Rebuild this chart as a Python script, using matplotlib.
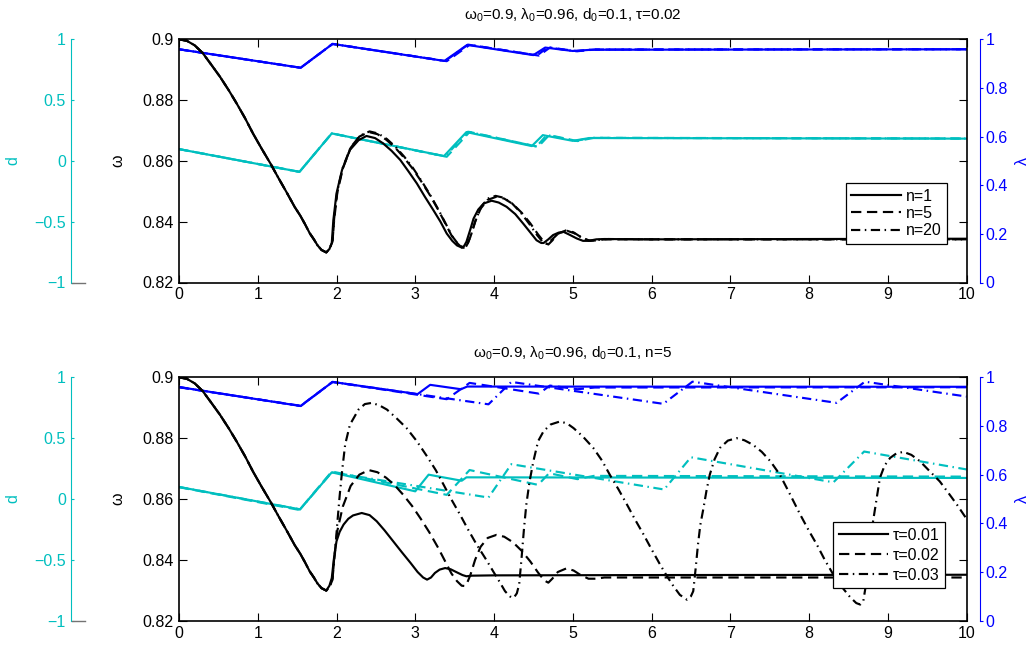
import matplotlib.pyplot as plt
import matplotlib.lines as mlines
from matplotlib.ticker import FuncFormatter

plt.rcParams['font.family'] = ['Liberation Sans', 'DejaVu Sans']
plt.rcParams['mathtext.fontset'] = 'custom'
plt.rcParams['mathtext.rm'] = 'Liberation Sans'
plt.rcParams['mathtext.it'] = 'Liberation Sans:italic'
plt.rcParams['font.size'] = 11.5

CYAN = '#00bfbf'
BLUE = '#0000ff'
FS = 11.5
LW = 1.55

# omega decay shared by all runs up to the first minimum
t_start = [0.00, 0.10, 0.20, 0.30, 0.40, 0.52, 0.63, 0.73, 0.84, 0.94, 1.05, 1.16,
           1.26, 1.37, 1.47, 1.54, 1.60, 1.66, 1.71, 1.76, 1.81, 1.87]
w_start = [0.9000, 0.8995, 0.8980, 0.8955, 0.8920, 0.8877, 0.8833, 0.8790, 0.8740,
           0.8690, 0.8640, 0.8592, 0.8545, 0.8495, 0.8448, 0.8420, 0.8392, 0.8362,
           0.8343, 0.8322, 0.8307, 0.8299]

# ---- top: tau = 0.02, n = 1 / 5 / 20 ----
t_n1 = t_start + [1.91, 1.94, 1.96, 2.00, 2.07, 2.17, 2.28, 2.38, 2.49, 2.59, 2.70, 2.81,
                  2.91, 3.02, 3.12, 3.23, 3.32, 3.40, 3.47, 3.53, 3.59, 3.62, 3.65, 3.70,
                  3.74, 3.80, 3.87, 3.97, 4.06, 4.16, 4.27, 4.37, 4.46, 4.54, 4.60, 4.63,
                  4.69, 4.75, 4.82, 4.88, 4.96, 5.05, 5.13, 5.20, 5.30, 5.40, 6.00, 8.00, 10.00]
w_n1 = w_start + [0.8310, 0.8330, 0.8405, 0.8493, 0.8570, 0.8636, 0.8668, 0.8682, 0.8675,
                  0.8658, 0.8633, 0.8603, 0.8567, 0.8526, 0.8483, 0.8438, 0.8400, 0.8361,
                  0.8337, 0.8322, 0.8315, 0.8320, 0.8334, 0.8375, 0.8410, 0.8440, 0.8460,
                  0.8469, 0.8463, 0.8449, 0.8425, 0.8394, 0.8365, 0.8339, 0.8330, 0.8330,
                  0.8342, 0.8356, 0.8364, 0.8367, 0.8357, 0.8345, 0.8337, 0.8337, 0.8342,
                  0.8343, 0.8342, 0.8343, 0.8344]

t_n5 = t_start + [1.91, 1.95, 1.97, 2.01, 2.08, 2.18, 2.29, 2.41, 2.52, 2.63, 2.74, 2.85,
                  2.96, 3.07, 3.18, 3.29, 3.38, 3.46, 3.53, 3.59, 3.63, 3.66, 3.70, 3.76,
                  3.83, 3.92, 4.03, 4.13, 4.24, 4.35, 4.46, 4.56, 4.64, 4.69, 4.74, 4.81,
                  4.92, 5.01, 5.10, 5.20, 5.30, 5.40, 6.00, 8.00, 10.00]
w_n5 = w_start + [0.8310, 0.8335, 0.8405, 0.8495, 0.8575, 0.8643, 0.8680, 0.8695, 0.8688,
                  0.8670, 0.8645, 0.8613, 0.8577, 0.8535, 0.8490, 0.8440, 0.8395, 0.8355,
                  0.8330, 0.8315, 0.8314, 0.8325, 0.8350, 0.8400, 0.8443, 0.8472, 0.8482,
                  0.8476, 0.8458, 0.8430, 0.8395, 0.8358, 0.8332, 0.8325, 0.8338, 0.8360,
                  0.8372, 0.8365, 0.8350, 0.8338, 0.8338, 0.8342, 0.8342, 0.8342, 0.8342]

t_n20 = t_start + [1.91, 1.95, 1.97, 2.01, 2.08, 2.18, 2.30, 2.42, 2.53, 2.64, 2.75, 2.86,
                   2.97, 3.08, 3.19, 3.30, 3.39, 3.47, 3.54, 3.60, 3.64, 3.67, 3.71, 3.77,
                   3.84, 3.92, 4.02, 4.12, 4.23, 4.34, 4.45, 4.55, 4.62, 4.67, 4.73, 4.82,
                   4.93, 5.02, 5.12, 5.22, 5.32, 5.45, 6.00, 8.00, 10.00]
w_n20 = w_start + [0.8310, 0.8335, 0.8410, 0.8500, 0.8578, 0.8645, 0.8683, 0.8697, 0.8690,
                   0.8672, 0.8646, 0.8614, 0.8577, 0.8534, 0.8488, 0.8437, 0.8392, 0.8352,
                   0.8328, 0.8316, 0.8316, 0.8330, 0.8358, 0.8407, 0.8450, 0.8476, 0.8485,
                   0.8479, 0.8460, 0.8430, 0.8392, 0.8355, 0.8333, 0.8327, 0.8340, 0.8362,
                   0.8370, 0.8362, 0.8347, 0.8337, 0.8340, 0.8343, 0.8342, 0.8342, 0.8342]

lt_n1 = [0.00, 1.545, 1.95, 3.37, 3.66, 4.50, 4.65, 5.00, 5.24, 10.00]
lam_n1 = [0.959, 0.883, 0.981, 0.911, 0.977, 0.935, 0.966, 0.952, 0.957, 0.959]
lt_n5 = [0.00, 1.545, 1.95, 3.40, 3.69, 4.57, 4.71, 5.06, 5.28, 10.00]
lam_n5 = [0.959, 0.883, 0.981, 0.910, 0.977, 0.933, 0.966, 0.951, 0.958, 0.959]
lt_n20 = [0.00, 1.545, 1.95, 3.38, 3.67, 4.55, 4.68, 5.03, 5.25, 10.00]
lam_n20 = [0.959, 0.883, 0.981, 0.911, 0.978, 0.934, 0.967, 0.951, 0.958, 0.959]

dt_n1 = [0.00, 1.53, 1.94, 3.365, 3.65, 4.48, 4.62, 5.00, 5.21, 10.00]
d_n1 = [0.097, -0.090, 0.226, 0.040, 0.237, 0.122, 0.212, 0.165, 0.188, 0.183]
dt_n5 = [0.00, 1.53, 1.94, 3.40, 3.69, 4.56, 4.70, 5.06, 5.27, 10.00]
d_n5 = [0.097, -0.090, 0.226, 0.034, 0.238, 0.116, 0.212, 0.163, 0.190, 0.184]
dt_n20 = [0.00, 1.53, 1.94, 3.38, 3.67, 4.54, 4.67, 5.03, 5.24, 10.00]
d_n20 = [0.097, -0.090, 0.226, 0.037, 0.240, 0.118, 0.213, 0.164, 0.189, 0.184]

# ---- bottom: n = 5, tau = 0.01 / 0.02 / 0.03 (tau = 0.02 is the n = 5 run above) ----
t_t1 = t_start + [1.91, 1.94, 1.97, 2.00, 2.04, 2.09, 2.15, 2.21, 2.32, 2.42, 2.51, 2.61,
                  2.72, 2.83, 2.94, 3.03, 3.10, 3.15, 3.20, 3.25, 3.31, 3.38, 3.45, 3.52,
                  3.60, 3.65, 3.72, 4.00, 6.00, 10.00]
w_t1 = w_start + [0.8315, 0.8340, 0.8410, 0.8461, 0.8492, 0.8516, 0.8535, 0.8546, 0.8554,
                  0.8547, 0.8527, 0.8497, 0.8461, 0.8425, 0.8390, 0.8360, 0.8342, 0.8335,
                  0.8342, 0.8357, 0.8368, 0.8373, 0.8369, 0.8360, 0.8350, 0.8346, 0.8348,
                  0.8349, 0.8350, 0.8351]

t_t3 = t_start + [1.91, 1.95, 1.98, 2.01, 2.04, 2.07, 2.11, 2.17, 2.28, 2.36,
                  2.45, 2.55, 2.64, 2.76, 2.89, 3.02, 3.15, 3.26, 3.36, 3.46,
                  3.57, 3.67, 3.78, 3.89, 3.99, 4.07, 4.14, 4.20, 4.25, 4.29,
                  4.32, 4.35, 4.38, 4.41, 4.45, 4.50, 4.56, 4.63, 4.72, 4.84,
                  4.93, 5.01, 5.13, 5.26, 5.37, 5.47, 5.58, 5.69, 5.79, 5.90,
                  6.00, 6.11, 6.20, 6.28, 6.36, 6.45, 6.50, 6.53, 6.56, 6.59,
                  6.62, 6.66, 6.70, 6.74, 6.80, 6.87, 6.97, 7.08, 7.18, 7.29,
                  7.40, 7.51, 7.63, 7.74, 7.89, 8.00, 8.10, 8.20, 8.31, 8.42,
                  8.52, 8.60, 8.65, 8.69, 8.73, 8.77, 8.80, 8.84, 8.90, 8.96,
                  9.03, 9.11, 9.20, 9.30, 9.41, 9.53, 9.66, 9.77, 9.88, 10.00]
w_t3 = w_start + [0.8310, 0.8340, 0.8420, 0.8520, 0.8610, 0.8690, 0.8779, 0.8844, 0.8894, 0.8912,
                  0.8916, 0.8907, 0.8894, 0.8866, 0.8833, 0.8790, 0.8740, 0.8695, 0.8647, 0.8598,
                  0.8548, 0.8500, 0.8450, 0.8405, 0.8362, 0.8328, 0.8297, 0.8280, 0.8275, 0.8290,
                  0.8320, 0.8406, 0.8500, 0.8581, 0.8655, 0.8724, 0.8790, 0.8823, 0.8845, 0.8855,
                  0.8848, 0.8833, 0.8805, 0.8768, 0.8727, 0.8680, 0.8632, 0.8581, 0.8533, 0.8483,
                  0.8435, 0.8384, 0.8345, 0.8313, 0.8285, 0.8269, 0.8280, 0.8297, 0.8370, 0.8450,
                  0.8515, 0.8570, 0.8630, 0.8680, 0.8730, 0.8768, 0.8792, 0.8800, 0.8793, 0.8778,
                  0.8755, 0.8724, 0.8680, 0.8625, 0.8548, 0.8495, 0.8450, 0.8400, 0.8351, 0.8310,
                  0.8278, 0.8258, 0.8253, 0.8265, 0.8330, 0.8420, 0.8505, 0.8570, 0.8669, 0.8710,
                  0.8735, 0.8750, 0.8755, 0.8745, 0.8724, 0.8692, 0.8658, 0.8620, 0.8581, 0.8535]

lt_t1 = [0.00, 1.545, 1.95, 3.03, 3.19, 3.58, 3.66, 10.00]
lam_t1 = [0.960, 0.882, 0.981, 0.931, 0.969, 0.951, 0.962, 0.961]
lt_t3 = [0.00, 1.545, 1.95, 3.93, 4.22, 6.15, 6.52, 8.35, 8.71, 10.00]
lam_t3 = [0.960, 0.882, 0.981, 0.889, 0.981, 0.891, 0.982, 0.895, 0.982, 0.921]

dt_t1 = [0.00, 1.537, 1.94, 3.00, 3.17, 3.59, 3.65, 10.00]
d_t1 = [0.099, -0.085, 0.219, 0.063, 0.200, 0.150, 0.178, 0.173]
dt_t3 = [0.00, 1.537, 1.94, 3.93, 4.22, 6.16, 6.50, 8.31, 8.70, 10.00]
d_t3 = [0.099, -0.085, 0.219, 0.012, 0.286, 0.078, 0.343, 0.137, 0.390, 0.243]

W, H = 1032, 650
fig = plt.figure(figsize=(W / 100, H / 100), dpi=100)

styles = ['-', (0, (4.8, 2.6)), (0, (4.3, 2.1, 0.7, 2.1))]


def fmt_tick(v, pos):
    return ('%g' % round(v, 6)).replace('-', '\u2212')


def draw_panel(rect, title, omega_runs, lam_runs, d_runs, labels, anchor, spacing):
    ax = fig.add_axes(rect)
    ax_lam = ax.twinx()
    ax_d = ax.twinx()
    # black omega curves (and the legend) sit on top
    ax.set_zorder(ax_d.get_zorder() + 1)
    ax.patch.set_visible(False)

    for (t, d), ls in zip(d_runs, styles):
        ax_d.plot(t, d, color=CYAN, lw=LW, linestyle=ls)
    for (t, l), ls in zip(lam_runs, styles):
        ax_lam.plot(t, l, color=BLUE, lw=LW, linestyle=ls)
    for (t, w), ls, lab in zip(omega_runs, styles, labels):
        ax.plot(t, w, color='k', lw=LW, linestyle=ls, label=lab)

    ax.set_xlim(0, 10)
    ax.set_ylim(0.82, 0.9)
    ax.set_xticks(range(11))
    ax.set_yticks([0.82, 0.84, 0.86, 0.88, 0.9])
    ax.yaxis.set_major_formatter(FuncFormatter(fmt_tick))
    ax.tick_params(direction='in', top=True, right=True, left=True, bottom=True,
                   length=5.5, width=0.8, labelsize=FS)
    ax.tick_params(axis='x', pad=3.5)
    ax.tick_params(axis='y', pad=4)
    for s in ax.spines.values():
        s.set_linewidth(1.2)
    ax.set_ylabel('\u03c9', fontsize=FS)
    ax.yaxis.set_label_coords(-0.0686, 0.5)

    # lambda axis, offset to the right
    ax_lam.set_ylim(0, 1)
    ax_lam.set_yticks([0, 0.2, 0.4, 0.6, 0.8, 1])
    ax_lam.yaxis.set_major_formatter(FuncFormatter(fmt_tick))
    for k in ['top', 'bottom', 'left']:
        ax_lam.spines[k].set_visible(False)
    ax_lam.spines['right'].set_position(('outward', 9.7))
    ax_lam.spines['right'].set_color(BLUE)
    ax_lam.spines['right'].set_linewidth(0.8)
    ax_lam.tick_params(axis='y', colors=BLUE, direction='out', length=2.5, pad=1.5,
                       labelsize=FS)
    ax_lam.set_ylabel('\u03bb', color=BLUE, fontsize=FS)
    ax_lam.yaxis.set_label_coords(1.0616, 0.5)

    # d axis, offset far to the left
    ax_d.set_ylim(-1, 1)
    ax_d.set_yticks([-1, -0.5, 0, 0.5, 1])
    ax_d.yaxis.set_major_formatter(FuncFormatter(fmt_tick))
    for k in ['top', 'bottom', 'right']:
        ax_d.spines[k].set_visible(False)
    ax_d.spines['left'].set_visible(True)
    ax_d.spines['left'].set_position(('outward', 77.4))
    ax_d.spines['left'].set_color(CYAN)
    ax_d.spines['left'].set_linewidth(0.8)
    ax_d.yaxis.tick_left()
    ax_d.yaxis.set_label_position('left')
    ax_d.tick_params(axis='y', colors=CYAN, direction='in', length=2.5, pad=4,
                     labelsize=FS)
    ax_d.set_ylabel('d', color=CYAN, fontsize=FS)
    ax_d.yaxis.set_label_coords(-0.202, 0.5)

    ax.text(0.5, 1.079, title, transform=ax.transAxes, ha='center', va='baseline',
            fontsize=FS - 0.5)

    leg = ax.legend(loc='upper right', bbox_to_anchor=anchor, borderaxespad=0,
                    fancybox=False, edgecolor='k', framealpha=1, fontsize=FS,
                    handlelength=3.1, handletextpad=0.3, labelspacing=spacing,
                    borderpad=0.35)
    leg.get_frame().set_linewidth(0.9)

    # short grey stub at the foot of the d axis
    fig.add_artist(mlines.Line2D([71.5 / W, 85 / W], [rect[1], rect[1]],
                                 color='0.45', lw=1.0))
    return ax


top_rect = [179 / W, 1 - 282.5 / H, 787.5 / W, 243.2 / H]
bot_rect = [179 / W, 1 - 620.7 / H, 787.5 / W, 243.4 / H]

draw_panel(top_rect,
           r'$\mathregular{\omega_0}$=0.9, $\mathregular{\lambda_0}$=0.96, '
           r'$\mathregular{d_0}$=0.1, τ=0.02',
           [(t_n1, w_n1), (t_n5, w_n5), (t_n20, w_n20)],
           [(lt_n1, lam_n1), (lt_n5, lam_n5), (lt_n20, lam_n20)],
           [(dt_n1, d_n1), (dt_n5, d_n5), (dt_n20, d_n20)],
           ['n=1', 'n=5', 'n=20'], (0.975, 0.409), 0.15)

draw_panel(bot_rect,
           r'$\mathregular{\omega_0}$=0.9, $\mathregular{\lambda_0}$=0.96, '
           r'$\mathregular{d_0}$=0.1, n=5',
           [(t_t1, w_t1), (t_n5, w_n5), (t_t3, w_t3)],
           [(lt_t1, lam_t1), (lt_n5, lam_n5), (lt_t3, lam_t3)],
           [(dt_t1, d_t1), (dt_n5, d_n5), (dt_t3, d_t3)],
           ['τ=0.01', 'τ=0.02', 'τ=0.03'], (0.973, 0.404), 0.3)

fig.savefig('out.png', dpi=100, facecolor='white')
